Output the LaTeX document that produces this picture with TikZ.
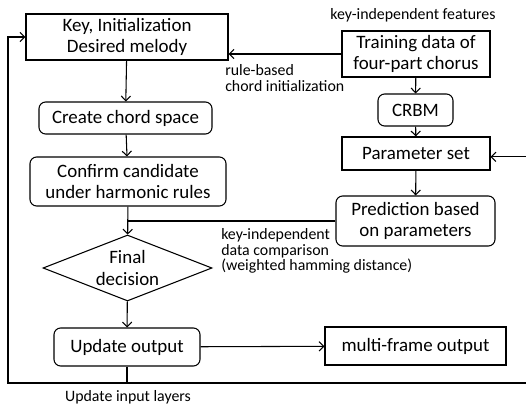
\documentclass[tikz,border=0pt]{standalone}
\usepackage{fontspec}
\setmainfont{Carlito}
\usetikzlibrary{shapes.geometric,arrows.meta}
\tikzset{
  boxfont/.style={font=\fontsize{14.2}{15.8}\selectfont},
  lblfont/.style={font=\fontsize{11.9}{11.8}\selectfont},
  sqbox/.style={draw, line width=0.8pt, boxfont, align=center, inner sep=0pt},
  rndbox/.style={sqbox, rounded corners=5pt},
  decbox/.style={draw, line width=0.8pt, boxfont, align=center, shape=diamond,
    aspect=2.56, inner sep=0pt, minimum width=126.75pt, minimum height=49.5pt},
  conn/.style={line width=0.8pt},
  arr/.style={conn, -{Straight Barb[length=3.5pt,width=7pt]}},
  lbl/.style={lblfont, align=left, inner sep=0pt}
}
\begin{document}
\begin{tikzpicture}[x=0.75pt,y=-0.75pt]
\useasboundingbox (0,0) rectangle (526,406);

% left column
\node[sqbox, minimum width=151.5pt, minimum height=34.5pt] (key) at (127,37) {Key, Initialization\\Desired melody};
\node[rndbox, minimum width=129.75pt, minimum height=24pt] (create) at (125.5,118) {Create chord space};
\node[rndbox, minimum width=147pt, minimum height=36.75pt] (confirm) at (128,181.5) {Confirm candidate\\under harmonic rules};
\node[decbox] (decision) at (127.5,268) {Final\\decision};
\node[rndbox, minimum width=109.5pt, minimum height=28.5pt] (update) at (127,347) {Update output};

% right column
\node[sqbox, minimum width=111pt, minimum height=34.5pt] (train) at (416,54) {Training data of\\four-part chorus};
\node[rndbox, minimum width=56.25pt, minimum height=24pt] (crbm) at (415.5,110) {CRBM};
\node[sqbox, minimum width=111pt, minimum height=24.75pt] (param) at (416,153.5) {Parameter set};
\node[rndbox, minimum width=119.25pt, minimum height=37.5pt] (pred) at (415.5,221) {Prediction based\\on parameters};
\node[sqbox, minimum width=135.75pt, minimum height=28.5pt] (multi) at (415.5,346) {multi-frame output};

% labels
\node[lbl] (featlbl) at (413,15) {key-independent features};
\node[lbl, anchor=north west] (rulelbl) at (225,64) {rule-based\\chord initialization};
\node[lbl, anchor=north west] (cmplbl) at (221,228) {key-independent\\data comparison\\(weighted hamming distance)};
\node[lbl, anchor=south] (inlbl) at (128,404) {Update input layers};

% feedback corners
\coordinate (fbL) at (8,383);
\coordinate (fbR) at (545,383);

% connectors
\draw[arr] (key) -- (create);
\draw[arr] (create) -- (confirm);
\draw[arr] (confirm) -- (decision);
\draw[arr] (decision) -- (update);
\draw[arr] (update) -- (multi);
\draw[arr] (train.west) -- (train.west -| key.east);
\draw[arr] (train) -- (crbm);
\draw[arr] (crbm) -- (param);
\draw[arr] (param) -- (pred);
\draw[conn] (pred.west) -- (pred.west -| confirm.south);
\draw[conn] (update.south) -- (update.south |- fbL);
\draw[arr] (update.south |- fbL) -- (fbL) |- (key.west);
\draw[arr] (update.south |- fbL) -- (fbR) |- ([yshift=-2.5pt]param.east);
\end{tikzpicture}
\end{document}
